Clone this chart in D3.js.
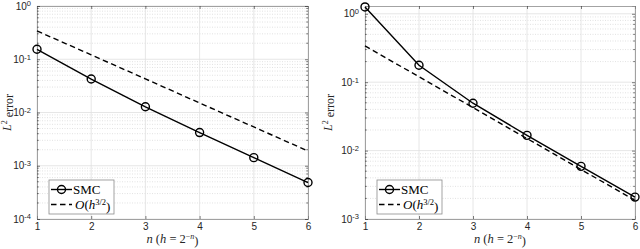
<!DOCTYPE html>
<html>
<head>
<meta charset="utf-8">
<script src="https://cdn.jsdelivr.net/npm/d3@7.9.0/dist/d3.min.js"></script>
<style>
  body { margin: 0; background: #fff; }
  svg { display: block; }
  .tick text { font-family: 'Liberation Sans', Arial, sans-serif; font-size: 10px; fill: #262626; }
</style>
</head>
<body>
<svg id="chart" width="640" height="249"></svg>
<script>
const nValues = [1, 2, 3, 4, 5, 6];
const xTicks = [1, 2, 3, 4, 5, 6];

// left panel
const smcLeft = [0.154, 0.0425, 0.0128, 0.0042, 0.00142, 0.000484];
const refLeft = [0.34, 0.121, 0.0428, 0.0151, 0.00535, 0.00189];
const yTicksLeft = [1e-4, 1e-3, 1e-2, 1e-1, 1e0];
const yDomainLeft = [1e-4, 1];

// right panel
const smcRight = [1.26, 0.177, 0.0493, 0.0167, 0.00588, 0.00209];
const refRight = [0.339, 0.12, 0.0425, 0.015, 0.0053, 0.00187];
const yTicksRight = [1e-3, 1e-2, 1e-1, 1e0];
const yDomainRight = [1e-3, 1.3];

const svg = d3.select('#chart');
const serif = "'Liberation Serif', 'DejaVu Serif', serif";

function supLabel(sel) {
  sel.each(function (d) {
    const t = d3.select(this).text(null);
    t.append('tspan').text('10');
    t.append('tspan').attr('dy', '-0.45em').attr('font-size', '7.5px')
      .text(String(Math.round(Math.log10(d))));
  });
}

function panel(opts) {
  const { left, right, top, bottom, smc, ref, yTicks, yDomain, ylabelX } = opts;

  const x = d3.scaleLinear().domain([1, 6]).range([left, right]);
  const y = d3.scaleLog().domain(yDomain).range([bottom, top]);

  const g = svg.append('g');

  // minor values (2..9 per decade)
  const minor = [];
  for (let e = Math.floor(Math.log10(yDomain[0])); e <= 0; e++) {
    for (let m = 2; m <= 9; m++) {
      const v = m * Math.pow(10, e);
      if (v > yDomain[0] && v < yDomain[1]) minor.push(v);
    }
  }

  // grid
  g.append('g').selectAll('line')
    .data(minor).join('line')
    .attr('x1', left).attr('x2', right)
    .attr('y1', (d) => y(d)).attr('y2', (d) => y(d))
    .attr('stroke', '#cfcfcf').attr('stroke-width', 0.6)
    .attr('stroke-dasharray', '1,1.5');

  g.append('g').selectAll('line')
    .data(yTicks).join('line')
    .attr('x1', left).attr('x2', right)
    .attr('y1', (d) => y(d)).attr('y2', (d) => y(d))
    .attr('stroke', '#e0e0e0').attr('stroke-width', 0.8);

  g.append('g').selectAll('line')
    .data(xTicks).join('line')
    .attr('x1', (d) => x(d)).attr('x2', (d) => x(d))
    .attr('y1', top).attr('y2', bottom)
    .attr('stroke', '#e0e0e0').attr('stroke-width', 0.8);

  // axes (ticks inward, box on)
  const axB = g.append('g').attr('transform', `translate(0,${bottom})`)
    .call(d3.axisBottom(x).tickValues(xTicks).tickSize(-3).tickPadding(4).tickFormat(d3.format('d')));
  const axT = g.append('g').attr('transform', `translate(0,${top})`)
    .call(d3.axisTop(x).tickValues(xTicks).tickSize(-3).tickFormat(''));
  const axL = g.append('g').attr('transform', `translate(${left},0)`)
    .call(d3.axisLeft(y).tickValues(yTicks).tickSize(-3).tickPadding(6));
  axL.selectAll('.tick text').call(supLabel);
  const axR = g.append('g').attr('transform', `translate(${right},0)`)
    .call(d3.axisRight(y).tickValues(yTicks).tickSize(-3).tickFormat(''));

  // minor ticks on left and right
  g.append('g').selectAll('line')
    .data(minor.flatMap((v) => [[left, 1, v], [right, -1, v]])).join('line')
    .attr('x1', (d) => d[0]).attr('x2', (d) => d[0] + d[1] * 1.8)
    .attr('y1', (d) => y(d[2])).attr('y2', (d) => y(d[2]))
    .attr('stroke', '#262626').attr('stroke-width', 0.6);

  [axB, axT, axL, axR].forEach((a) => {
    a.select('.domain').attr('stroke', '#8c8c8c').attr('stroke-width', 0.8);
    a.selectAll('.tick line').attr('stroke', '#262626').attr('stroke-width', 0.6);
  });

  // reference O(h^{3/2})
  const line = (vals) => d3.line().x((d, i) => x(nValues[i])).y((d) => y(d))(vals);
  g.append('path').attr('d', line(ref))
    .attr('fill', 'none').attr('stroke', '#000').attr('stroke-width', 1.4)
    .attr('stroke-dasharray', '5.5,3.5');

  // SMC
  g.append('path').attr('d', line(smc))
    .attr('fill', 'none').attr('stroke', '#000').attr('stroke-width', 1.4);
  g.append('g').selectAll('circle')
    .data(smc).join('circle')
    .attr('cx', (d, i) => x(nValues[i])).attr('cy', (d) => y(d))
    .attr('r', 4).attr('fill', 'none').attr('stroke', '#000').attr('stroke-width', 1.4);

  // y label
  const yl = g.append('text')
    .attr('transform', `translate(${ylabelX},${(top + bottom) / 2}) rotate(-90)`)
    .attr('text-anchor', 'middle').attr('font-family', serif).attr('font-size', '12px')
    .attr('fill', '#262626');
  yl.append('tspan').attr('font-style', 'italic').text('L');
  yl.append('tspan').attr('dy', '-0.45em').attr('font-size', '8px').text('2');
  yl.append('tspan').attr('dy', '0.45em').text('\u00a0error');

  // x label
  const xl = g.append('text')
    .attr('x', (left + right) / 2).attr('y', 243)
    .attr('text-anchor', 'middle').attr('font-family', serif).attr('font-size', '12.5px')
    .attr('fill', '#262626');
  xl.append('tspan').attr('font-style', 'italic').text('n');
  xl.append('tspan').text(' (');
  xl.append('tspan').attr('font-style', 'italic').text('h');
  xl.append('tspan').text(' = 2');
  xl.append('tspan').attr('dy', '-0.45em').attr('font-size', '8px').text('\u2212');
  xl.append('tspan').attr('font-size', '8px').attr('font-style', 'italic').text('n');
  xl.append('tspan').attr('dy', '0.45em').text(')');

  // legend
  const lx = left + 12, ly = bottom - 39;
  const lg = g.append('g').attr('transform', `translate(${lx},${ly})`);
  lg.append('rect').attr('width', 65).attr('height', 34)
    .attr('fill', '#fff').attr('stroke', '#8c8c8c').attr('stroke-width', 0.8);
  lg.append('line').attr('x1', 2).attr('x2', 23).attr('y1', 9.5).attr('y2', 9.5)
    .attr('stroke', '#000').attr('stroke-width', 1.4);
  lg.append('circle').attr('cx', 12.5).attr('cy', 9.5).attr('r', 4)
    .attr('fill', 'none').attr('stroke', '#000').attr('stroke-width', 1.4);
  lg.append('line').attr('x1', 2).attr('x2', 23).attr('y1', 24.5).attr('y2', 24.5)
    .attr('stroke', '#000').attr('stroke-width', 1.4).attr('stroke-dasharray', '5.5,3.5');
  lg.append('text').attr('x', 24).attr('y', 13.8)
    .attr('font-family', serif).attr('font-size', '13px').attr('fill', '#000').text('SMC');
  const lt = lg.append('text').attr('x', 26).attr('y', 29)
    .attr('font-family', serif).attr('font-size', '13px').attr('fill', '#000');
  lt.append('tspan').attr('font-style', 'italic').text('O');
  lt.append('tspan').text('(');
  lt.append('tspan').attr('font-style', 'italic').text('h');
  lt.append('tspan').attr('dy', '-0.45em').attr('font-size', '8.5px').text('3/2');
  lt.append('tspan').attr('dy', '0.45em').text(')');
}

panel({ left: 37, right: 308, top: 6, bottom: 219, smc: smcLeft, ref: refLeft,
  yTicks: yTicksLeft, yDomain: yDomainLeft, ylabelX: 11 });
panel({ left: 365, right: 635, top: 6, bottom: 219, smc: smcRight, ref: refRight,
  yTicks: yTicksRight, yDomain: yDomainRight, ylabelX: 332 });
</script>
</body>
</html>
